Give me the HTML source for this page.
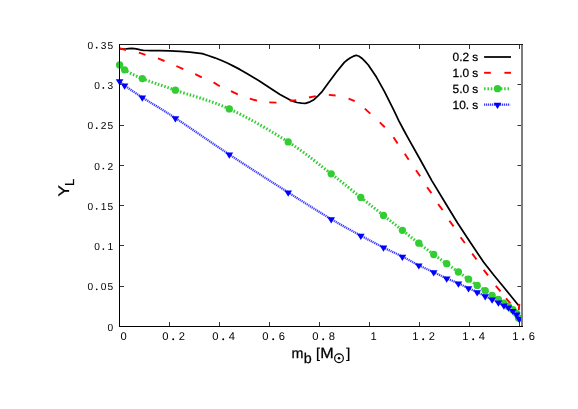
<!DOCTYPE html><html><head><meta charset="utf-8"><title>plot</title><style>html,body{margin:0;padding:0;background:#fff}svg{display:block;will-change:transform}text{font-family:"Liberation Sans",sans-serif;fill:#000;text-rendering:geometricPrecision}.b{stroke:#000;stroke-width:0.25px}</style></head><body>
<svg width="578" height="409" viewBox="0 0 578 409">
<rect width="578" height="409" fill="#fff"/>
<g stroke="#333" stroke-width="1" fill="none">
<line x1="169.5" y1="326" x2="169.5" y2="322"/>
<line x1="169.5" y1="45" x2="169.5" y2="49"/>
<line x1="219.5" y1="326" x2="219.5" y2="322"/>
<line x1="219.5" y1="45" x2="219.5" y2="49"/>
<line x1="269.5" y1="326" x2="269.5" y2="322"/>
<line x1="269.5" y1="45" x2="269.5" y2="49"/>
<line x1="319.5" y1="326" x2="319.5" y2="322"/>
<line x1="319.5" y1="45" x2="319.5" y2="49"/>
<line x1="369.5" y1="326" x2="369.5" y2="322"/>
<line x1="369.5" y1="45" x2="369.5" y2="49"/>
<line x1="419.5" y1="326" x2="419.5" y2="322"/>
<line x1="419.5" y1="45" x2="419.5" y2="49"/>
<line x1="469.5" y1="326" x2="469.5" y2="322"/>
<line x1="469.5" y1="45" x2="469.5" y2="49"/>
<line x1="519.5" y1="326" x2="519.5" y2="322"/>
<line x1="519.5" y1="45" x2="519.5" y2="49"/>
<line x1="120" y1="286.5" x2="124" y2="286.5"/>
<line x1="521.5" y1="286.5" x2="517.5" y2="286.5"/>
<line x1="120" y1="245.5" x2="124" y2="245.5"/>
<line x1="521.5" y1="245.5" x2="517.5" y2="245.5"/>
<line x1="120" y1="205.5" x2="124" y2="205.5"/>
<line x1="521.5" y1="205.5" x2="517.5" y2="205.5"/>
<line x1="120" y1="165.5" x2="124" y2="165.5"/>
<line x1="521.5" y1="165.5" x2="517.5" y2="165.5"/>
<line x1="120" y1="125.5" x2="124" y2="125.5"/>
<line x1="521.5" y1="125.5" x2="517.5" y2="125.5"/>
<line x1="120" y1="84.5" x2="124" y2="84.5"/>
<line x1="521.5" y1="84.5" x2="517.5" y2="84.5"/>
</g>
<polyline points="119.5,48.6 122.5,48.9 125.7,49.0 128.5,48.6 131.6,48.4 134.5,48.6 137.5,49.1 140.5,49.8 143.3,50.3 147.0,50.5 150.7,50.6 160.0,50.7 169.9,50.8 180.0,51.3 189.9,52.2 196.0,52.8 202.3,53.7 208.0,55.5 214.8,57.8 221.0,60.3 227.3,63.0 233.5,66.1 239.8,69.4 246.0,73.0 252.3,76.7 259.0,80.7 270.0,87.9 280.0,94.4 289.7,99.7 293.5,101.4 297.0,102.5 301.5,103.1 305.5,103.3 310.0,101.8 313.9,99.7 318.0,95.8 322.3,91.3 328.5,82.8 336.3,72.3 344.3,62.4 347.5,59.8 350.5,57.7 353.5,56.2 356.2,55.3 359.0,56.3 361.8,58.2 365.0,61.3 368.3,65.0 376.4,77.1 384.5,91.7 393.4,109.4 399.0,121.1 403.7,130.0 408.7,139.2 420.0,159.2 431.8,180.6 444.9,202.2 457.4,222.7 469.9,241.8 483.7,262.3 493.9,275.3 503.4,286.8 511.9,297.2 518.6,305.5" fill="none" stroke="#000" stroke-width="1.75" stroke-linejoin="round"/>
<line x1="119.6" y1="48.4" x2="126.0" y2="50.0" stroke="#f00" stroke-width="1.9"/>
<line x1="138.9" y1="52.7" x2="145.5" y2="54.8" stroke="#f00" stroke-width="1.9"/>
<line x1="158.0" y1="58.4" x2="164.5" y2="61.0" stroke="#f00" stroke-width="1.9"/>
<line x1="176.4" y1="66.0" x2="183.3" y2="69.2" stroke="#f00" stroke-width="1.9"/>
<line x1="195.2" y1="74.2" x2="201.8" y2="77.4" stroke="#f00" stroke-width="1.9"/>
<line x1="213.6" y1="82.4" x2="219.8" y2="86.2" stroke="#f00" stroke-width="1.9"/>
<line x1="231.0" y1="91.2" x2="237.8" y2="94.4" stroke="#f00" stroke-width="1.9"/>
<line x1="249.8" y1="98.6" x2="257.0" y2="100.7" stroke="#f00" stroke-width="1.9"/>
<line x1="269.3" y1="102.4" x2="276.5" y2="102.6" stroke="#f00" stroke-width="1.9"/>
<line x1="289.7" y1="100.9" x2="296.2" y2="100.2" stroke="#f00" stroke-width="1.9"/>
<line x1="309.0" y1="97.5" x2="315.8" y2="96.1" stroke="#f00" stroke-width="1.9"/>
<line x1="328.8" y1="94.9" x2="335.6" y2="95.5" stroke="#f00" stroke-width="1.9"/>
<line x1="348.6" y1="98.6" x2="354.7" y2="101.2" stroke="#f00" stroke-width="1.9"/>
<line x1="364.8" y1="108.6" x2="370.3" y2="113.6" stroke="#f00" stroke-width="1.9"/>
<line x1="379.8" y1="122.4" x2="384.8" y2="127.3" stroke="#f00" stroke-width="1.9"/>
<line x1="393.5" y1="137.3" x2="397.6" y2="143.6" stroke="#f00" stroke-width="1.9"/>
<line x1="404.8" y1="153.8" x2="408.7" y2="159.8" stroke="#f00" stroke-width="1.9"/>
<line x1="416.0" y1="170.3" x2="420.2" y2="176.3" stroke="#f00" stroke-width="1.9"/>
<line x1="427.1" y1="187.3" x2="431.4" y2="193.1" stroke="#f00" stroke-width="1.9"/>
<line x1="438.1" y1="204.1" x2="442.6" y2="210.0" stroke="#f00" stroke-width="1.9"/>
<line x1="449.4" y1="220.7" x2="453.6" y2="226.4" stroke="#f00" stroke-width="1.9"/>
<line x1="460.6" y1="237.2" x2="464.8" y2="243.0" stroke="#f00" stroke-width="1.9"/>
<line x1="472.2" y1="253.7" x2="476.5" y2="259.3" stroke="#f00" stroke-width="1.9"/>
<line x1="483.7" y1="269.8" x2="488.0" y2="275.4" stroke="#f00" stroke-width="1.9"/>
<line x1="495.8" y1="285.9" x2="500.5" y2="291.4" stroke="#f00" stroke-width="1.9"/>
<line x1="506.0" y1="298.3" x2="510.4" y2="303.3" stroke="#f00" stroke-width="1.9"/>
<line x1="519.3" y1="303.8" x2="518.8" y2="310.1" stroke="#f00" stroke-width="1.9"/>
<path d="M119.60,64.90 C120.43,65.72 120.82,67.52 124.60,69.80 C128.38,72.08 133.83,75.20 142.30,78.60 C150.77,82.00 160.90,85.15 175.40,90.20 C189.90,95.25 210.50,100.28 229.30,108.90 C248.10,117.52 271.22,131.08 288.20,141.90 C305.18,152.72 319.10,164.55 331.20,173.80 C343.30,183.05 352.08,190.47 360.80,197.40 C369.52,204.33 376.57,209.92 383.50,215.40 C390.43,220.88 396.52,225.67 402.40,230.30 C408.28,234.93 413.58,239.17 418.80,243.20 C424.02,247.23 429.05,251.08 433.70,254.50 C438.35,257.92 442.58,260.78 446.70,263.70 C450.82,266.62 454.77,269.42 458.40,272.00 C462.03,274.58 465.37,276.97 468.50,279.20 C471.63,281.43 474.42,283.48 477.20,285.40 C479.98,287.32 482.72,289.02 485.20,290.70 C487.68,292.38 489.90,294.03 492.10,295.50 C494.30,296.97 496.43,298.22 498.40,299.50 C500.37,300.78 502.23,302.05 503.90,303.20 C505.57,304.35 506.92,305.32 508.40,306.40 C509.88,307.48 511.43,308.53 512.80,309.70 C514.17,310.87 515.65,312.02 516.60,313.40 C517.55,314.78 518.18,317.23 518.50,318.00" fill="none" stroke="#32cd32" stroke-width="3.0" stroke-dasharray="1.5 1.85"/>
<circle cx="119.6" cy="64.9" r="3.65" fill="#32cd32"/>
<circle cx="124.6" cy="69.8" r="3.65" fill="#32cd32"/>
<circle cx="142.3" cy="78.6" r="3.65" fill="#32cd32"/>
<circle cx="175.4" cy="90.2" r="3.65" fill="#32cd32"/>
<circle cx="229.3" cy="108.9" r="3.65" fill="#32cd32"/>
<circle cx="288.2" cy="141.9" r="3.65" fill="#32cd32"/>
<circle cx="331.2" cy="173.8" r="3.65" fill="#32cd32"/>
<circle cx="360.8" cy="197.4" r="3.65" fill="#32cd32"/>
<circle cx="383.5" cy="215.4" r="3.65" fill="#32cd32"/>
<circle cx="402.4" cy="230.3" r="3.65" fill="#32cd32"/>
<circle cx="418.8" cy="243.2" r="3.65" fill="#32cd32"/>
<circle cx="433.7" cy="254.5" r="3.65" fill="#32cd32"/>
<circle cx="446.7" cy="263.7" r="3.65" fill="#32cd32"/>
<circle cx="458.4" cy="272.0" r="3.65" fill="#32cd32"/>
<circle cx="468.5" cy="279.2" r="3.65" fill="#32cd32"/>
<circle cx="477.2" cy="285.4" r="3.65" fill="#32cd32"/>
<circle cx="485.2" cy="290.7" r="3.65" fill="#32cd32"/>
<circle cx="492.1" cy="295.5" r="3.65" fill="#32cd32"/>
<circle cx="498.4" cy="299.5" r="3.65" fill="#32cd32"/>
<circle cx="503.9" cy="303.2" r="3.65" fill="#32cd32"/>
<circle cx="508.4" cy="306.4" r="3.65" fill="#32cd32"/>
<circle cx="512.8" cy="309.7" r="3.65" fill="#32cd32"/>
<circle cx="516.6" cy="313.4" r="3.65" fill="#32cd32"/>
<circle cx="518.5" cy="318.0" r="3.65" fill="#32cd32"/>
<path d="M119.60,81.10 C120.43,81.83 120.82,82.78 124.60,85.50 C128.38,88.22 133.83,91.97 142.30,97.40 C150.77,102.83 160.90,108.58 175.40,118.10 C189.90,127.62 210.50,142.12 229.30,154.50 C248.10,166.88 271.22,181.63 288.20,192.40 C305.18,203.17 319.10,211.90 331.20,219.10 C343.30,226.30 352.08,230.87 360.80,235.60 C369.52,240.33 376.57,244.00 383.50,247.50 C390.43,251.00 396.52,253.63 402.40,256.60 C408.28,259.57 413.58,262.70 418.80,265.30 C424.02,267.90 429.05,270.02 433.70,272.20 C438.35,274.38 442.58,276.53 446.70,278.40 C450.82,280.27 454.77,281.77 458.40,283.40 C462.03,285.03 465.37,286.75 468.50,288.20 C471.63,289.65 474.42,290.77 477.20,292.10 C479.98,293.43 482.72,294.97 485.20,296.20 C487.68,297.43 489.90,298.47 492.10,299.50 C494.30,300.53 496.43,301.40 498.40,302.40 C500.37,303.40 502.23,304.65 503.90,305.50 C505.57,306.35 506.92,306.62 508.40,307.50 C509.88,308.38 511.43,309.63 512.80,310.80 C514.17,311.97 515.52,313.13 516.60,314.50 C517.68,315.87 518.85,318.25 519.30,319.00" fill="none" stroke="#dcdcff" stroke-width="2.4"/>
<path d="M119.60,81.10 C120.43,81.83 120.82,82.78 124.60,85.50 C128.38,88.22 133.83,91.97 142.30,97.40 C150.77,102.83 160.90,108.58 175.40,118.10 C189.90,127.62 210.50,142.12 229.30,154.50 C248.10,166.88 271.22,181.63 288.20,192.40 C305.18,203.17 319.10,211.90 331.20,219.10 C343.30,226.30 352.08,230.87 360.80,235.60 C369.52,240.33 376.57,244.00 383.50,247.50 C390.43,251.00 396.52,253.63 402.40,256.60 C408.28,259.57 413.58,262.70 418.80,265.30 C424.02,267.90 429.05,270.02 433.70,272.20 C438.35,274.38 442.58,276.53 446.70,278.40 C450.82,280.27 454.77,281.77 458.40,283.40 C462.03,285.03 465.37,286.75 468.50,288.20 C471.63,289.65 474.42,290.77 477.20,292.10 C479.98,293.43 482.72,294.97 485.20,296.20 C487.68,297.43 489.90,298.47 492.10,299.50 C494.30,300.53 496.43,301.40 498.40,302.40 C500.37,303.40 502.23,304.65 503.90,305.50 C505.57,306.35 506.92,306.62 508.40,307.50 C509.88,308.38 511.43,309.63 512.80,310.80 C514.17,311.97 515.52,313.13 516.60,314.50 C517.68,315.87 518.85,318.25 519.30,319.00" fill="none" stroke="#2828ff" stroke-width="2.2" stroke-dasharray="0.95 1.05"/>
<polygon points="115.75,79.17 123.45,79.17 119.60,85.41" fill="#00f"/>
<polygon points="120.75,83.58 128.45,83.58 124.60,89.81" fill="#00f"/>
<polygon points="138.45,95.48 146.15,95.48 142.30,101.71" fill="#00f"/>
<polygon points="171.55,116.17 179.25,116.17 175.40,122.41" fill="#00f"/>
<polygon points="225.45,152.57 233.15,152.57 229.30,158.81" fill="#00f"/>
<polygon points="284.35,190.47 292.05,190.47 288.20,196.71" fill="#00f"/>
<polygon points="327.35,217.17 335.05,217.17 331.20,223.41" fill="#00f"/>
<polygon points="356.95,233.67 364.65,233.67 360.80,239.91" fill="#00f"/>
<polygon points="379.65,245.57 387.35,245.57 383.50,251.81" fill="#00f"/>
<polygon points="398.55,254.68 406.25,254.68 402.40,260.91" fill="#00f"/>
<polygon points="414.95,263.38 422.65,263.38 418.80,269.61" fill="#00f"/>
<polygon points="429.85,270.27 437.55,270.27 433.70,276.51" fill="#00f"/>
<polygon points="442.85,276.47 450.55,276.47 446.70,282.71" fill="#00f"/>
<polygon points="454.55,281.47 462.25,281.47 458.40,287.71" fill="#00f"/>
<polygon points="464.65,286.27 472.35,286.27 468.50,292.51" fill="#00f"/>
<polygon points="473.35,290.18 481.05,290.18 477.20,296.41" fill="#00f"/>
<polygon points="481.35,294.27 489.05,294.27 485.20,300.51" fill="#00f"/>
<polygon points="488.25,297.57 495.95,297.57 492.10,303.81" fill="#00f"/>
<polygon points="494.55,300.47 502.25,300.47 498.40,306.71" fill="#00f"/>
<polygon points="500.05,303.57 507.75,303.57 503.90,309.81" fill="#00f"/>
<polygon points="504.55,305.57 512.25,305.57 508.40,311.81" fill="#00f"/>
<polygon points="508.95,308.88 516.65,308.88 512.80,315.11" fill="#00f"/>
<polygon points="512.75,312.57 520.45,312.57 516.60,318.81" fill="#00f"/>
<polygon points="515.45,317.07 523.15,317.07 519.30,323.31" fill="#00f"/>
<line x1="484.1" y1="57.0" x2="511" y2="57.0" stroke="#000" stroke-width="1.75"/>
<line x1="484.1" y1="72.8" x2="490.8" y2="72.8" stroke="#f00" stroke-width="1.9"/>
<line x1="504.4" y1="72.8" x2="511" y2="72.8" stroke="#f00" stroke-width="1.9"/>
<line x1="484.1" y1="88.7" x2="509.2" y2="88.7" stroke="#32cd32" stroke-width="3.0" stroke-dasharray="1.5 1.85"/>
<circle cx="497.5" cy="88.7" r="3.65" fill="#32cd32"/>
<line x1="484.1" y1="104.7" x2="510.2" y2="104.7" stroke="#dcdcff" stroke-width="2.4"/>
<line x1="484.1" y1="104.7" x2="510.2" y2="104.7" stroke="#2828ff" stroke-width="2.2" stroke-dasharray="0.95 1.05"/>
<polygon points="493.65,102.78 501.35,102.78 497.50,109.01" fill="#00f"/>
<text class="b" x="478.3" y="61.0" font-size="11.9" text-anchor="end">0.2 s</text>
<text class="b" x="478.3" y="76.8" font-size="11.9" text-anchor="end">1.0 s</text>
<text class="b" x="478.3" y="92.7" font-size="11.9" text-anchor="end">5.0 s</text>
<text class="b" x="478.3" y="108.7" font-size="11.9" text-anchor="end">10. s</text>
<g stroke="#000" stroke-width="1" fill="none">
<line x1="522" y1="44" x2="522" y2="327" stroke="#7d7d7d" stroke-width="2"/>
<line x1="119" y1="44.5" x2="523" y2="44.5" stroke="#1a1a1a"/>
<line x1="119" y1="326.5" x2="523" y2="326.5"/>
<line x1="119.5" y1="44" x2="119.5" y2="327"/>
</g>
<g font-size="11.2" text-anchor="middle"><text x="123.50" y="340.4">0</text></g>
<g font-size="11.2" text-anchor="middle"><text x="165.25" y="340.4">0</text><circle cx="173.20" cy="339.30" r="1.00" fill="#000"/><text x="181.75" y="340.4">2</text></g>
<g font-size="11.2" text-anchor="middle"><text x="215.25" y="340.4">0</text><circle cx="223.20" cy="339.30" r="1.00" fill="#000"/><text x="231.75" y="340.4">4</text></g>
<g font-size="11.2" text-anchor="middle"><text x="265.25" y="340.4">0</text><circle cx="273.20" cy="339.30" r="1.00" fill="#000"/><text x="281.75" y="340.4">6</text></g>
<g font-size="11.2" text-anchor="middle"><text x="315.25" y="340.4">0</text><circle cx="323.20" cy="339.30" r="1.00" fill="#000"/><text x="331.75" y="340.4">8</text></g>
<g font-size="11.2" text-anchor="middle"><text x="373.50" y="340.4">1</text></g>
<g font-size="11.2" text-anchor="middle"><text x="415.25" y="340.4">1</text><circle cx="423.20" cy="339.30" r="1.00" fill="#000"/><text x="431.75" y="340.4">2</text></g>
<g font-size="11.2" text-anchor="middle"><text x="465.25" y="340.4">1</text><circle cx="473.20" cy="339.30" r="1.00" fill="#000"/><text x="481.75" y="340.4">4</text></g>
<g font-size="11.2" text-anchor="middle"><text x="515.25" y="340.4">1</text><circle cx="523.20" cy="339.30" r="1.00" fill="#000"/><text x="531.75" y="340.4">6</text></g>
<g font-size="10.2" text-anchor="middle"><text x="110.30" y="330.6">0</text></g>
<g font-size="10.2" text-anchor="middle"><text x="90.35" y="290.3">0</text><circle cx="96.70" cy="289.36" r="0.85" fill="#000"/><text x="103.65" y="290.3">0</text><text x="110.30" y="290.3">5</text></g>
<g font-size="10.2" text-anchor="middle"><text x="97.00" y="250.0">0</text><circle cx="103.35" cy="249.08" r="0.85" fill="#000"/><text x="110.30" y="250.0">1</text></g>
<g font-size="10.2" text-anchor="middle"><text x="90.35" y="209.7">0</text><circle cx="96.70" cy="208.79" r="0.85" fill="#000"/><text x="103.65" y="209.7">1</text><text x="110.30" y="209.7">5</text></g>
<g font-size="10.2" text-anchor="middle"><text x="97.00" y="169.5">0</text><circle cx="103.35" cy="168.51" r="0.85" fill="#000"/><text x="110.30" y="169.5">2</text></g>
<g font-size="10.2" text-anchor="middle"><text x="90.35" y="129.2">0</text><circle cx="96.70" cy="128.22" r="0.85" fill="#000"/><text x="103.65" y="129.2">2</text><text x="110.30" y="129.2">5</text></g>
<g font-size="10.2" text-anchor="middle"><text x="97.00" y="88.9">0</text><circle cx="103.35" cy="87.94" r="0.85" fill="#000"/><text x="110.30" y="88.9">3</text></g>
<g font-size="10.2" text-anchor="middle"><text x="90.35" y="48.6">0</text><circle cx="96.70" cy="47.65" r="0.85" fill="#000"/><text x="103.65" y="48.6">3</text><text x="110.30" y="48.6">5</text></g>
<text class="b" x="291.5" y="357.7" font-size="14.3">m</text>
<text class="b" x="303.8" y="363" font-size="14.3">b</text>
<text class="b" x="316" y="357.7" font-size="14.3">[</text>
<text class="b" transform="translate(320.2,357.7) scale(1.13,1.04)" font-size="14.3">M</text>
<circle cx="339.0" cy="358.2" r="4.35" fill="none" stroke="#000" stroke-width="1.2"/><circle cx="339.0" cy="358.2" r="1.25" fill="#000"/>
<text class="b" x="346.2" y="357.7" font-size="14.3">]</text>
<text class="b" transform="translate(69.1,196.6) rotate(-90) scale(1.1,1)" font-size="15.4">Y</text>
<text class="b" transform="translate(74.2,186.0) rotate(-90)" font-size="13">L</text>
</svg></body></html>
